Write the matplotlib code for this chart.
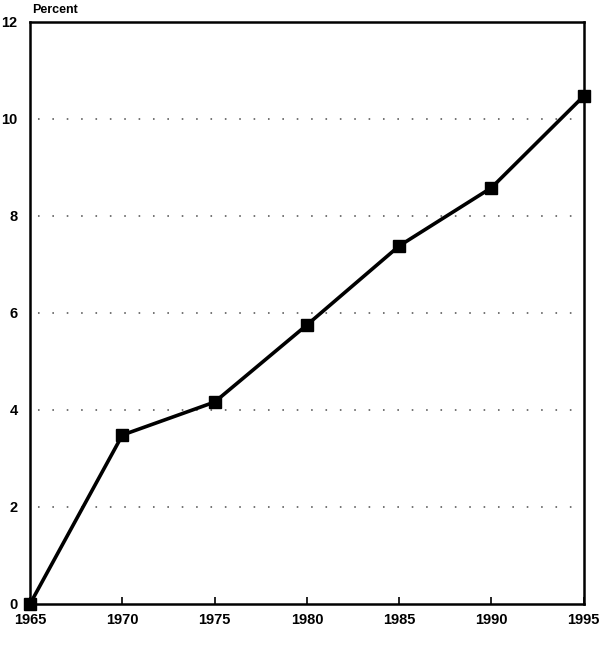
import matplotlib
matplotlib.use("Agg")
import matplotlib.pyplot as plt

years = [1965, 1970, 1975, 1980, 1985, 1990, 1995]
percent = [0.0, 3.48, 4.16, 5.75, 7.38, 8.58, 10.47]
y_ticks = [0, 2, 4, 6, 8, 10, 12]

plt.rcParams['font.family'] = ['Liberation Sans', 'DejaVu Sans']

fig = plt.figure(figsize=(6.03, 6.45), dpi=100)
ax = fig.add_axes([0.05, 0.064, 0.918, 0.902])

# dotted reference lines
for y in y_ticks[1:-1]:
    ax.axhline(y, color='#555555', linestyle=(4, (1, 8)), linewidth=1.15, zorder=1)

ax.plot(years, percent, color='black', linewidth=2.6, marker='s',
        markersize=9, zorder=3, clip_on=False)

ax.set_xlim(1965, 1995)
ax.set_ylim(0, 12)
ax.set_xticks(years)
ax.set_yticks(y_ticks)
ax.tick_params(axis='x', direction='in', length=5, width=1.2, labelsize=10.5, pad=7)
ax.tick_params(axis='y', length=0, labelsize=10.5, pad=9)
for lab in ax.get_xticklabels() + ax.get_yticklabels():
    lab.set_fontweight('bold')
for s in ax.spines.values():
    s.set_linewidth(1.8)

fig.text(0.053, 0.984, 'Percent', fontsize=9, fontweight='bold', ha='left', va='center')

fig.savefig('out.png', dpi=100)
